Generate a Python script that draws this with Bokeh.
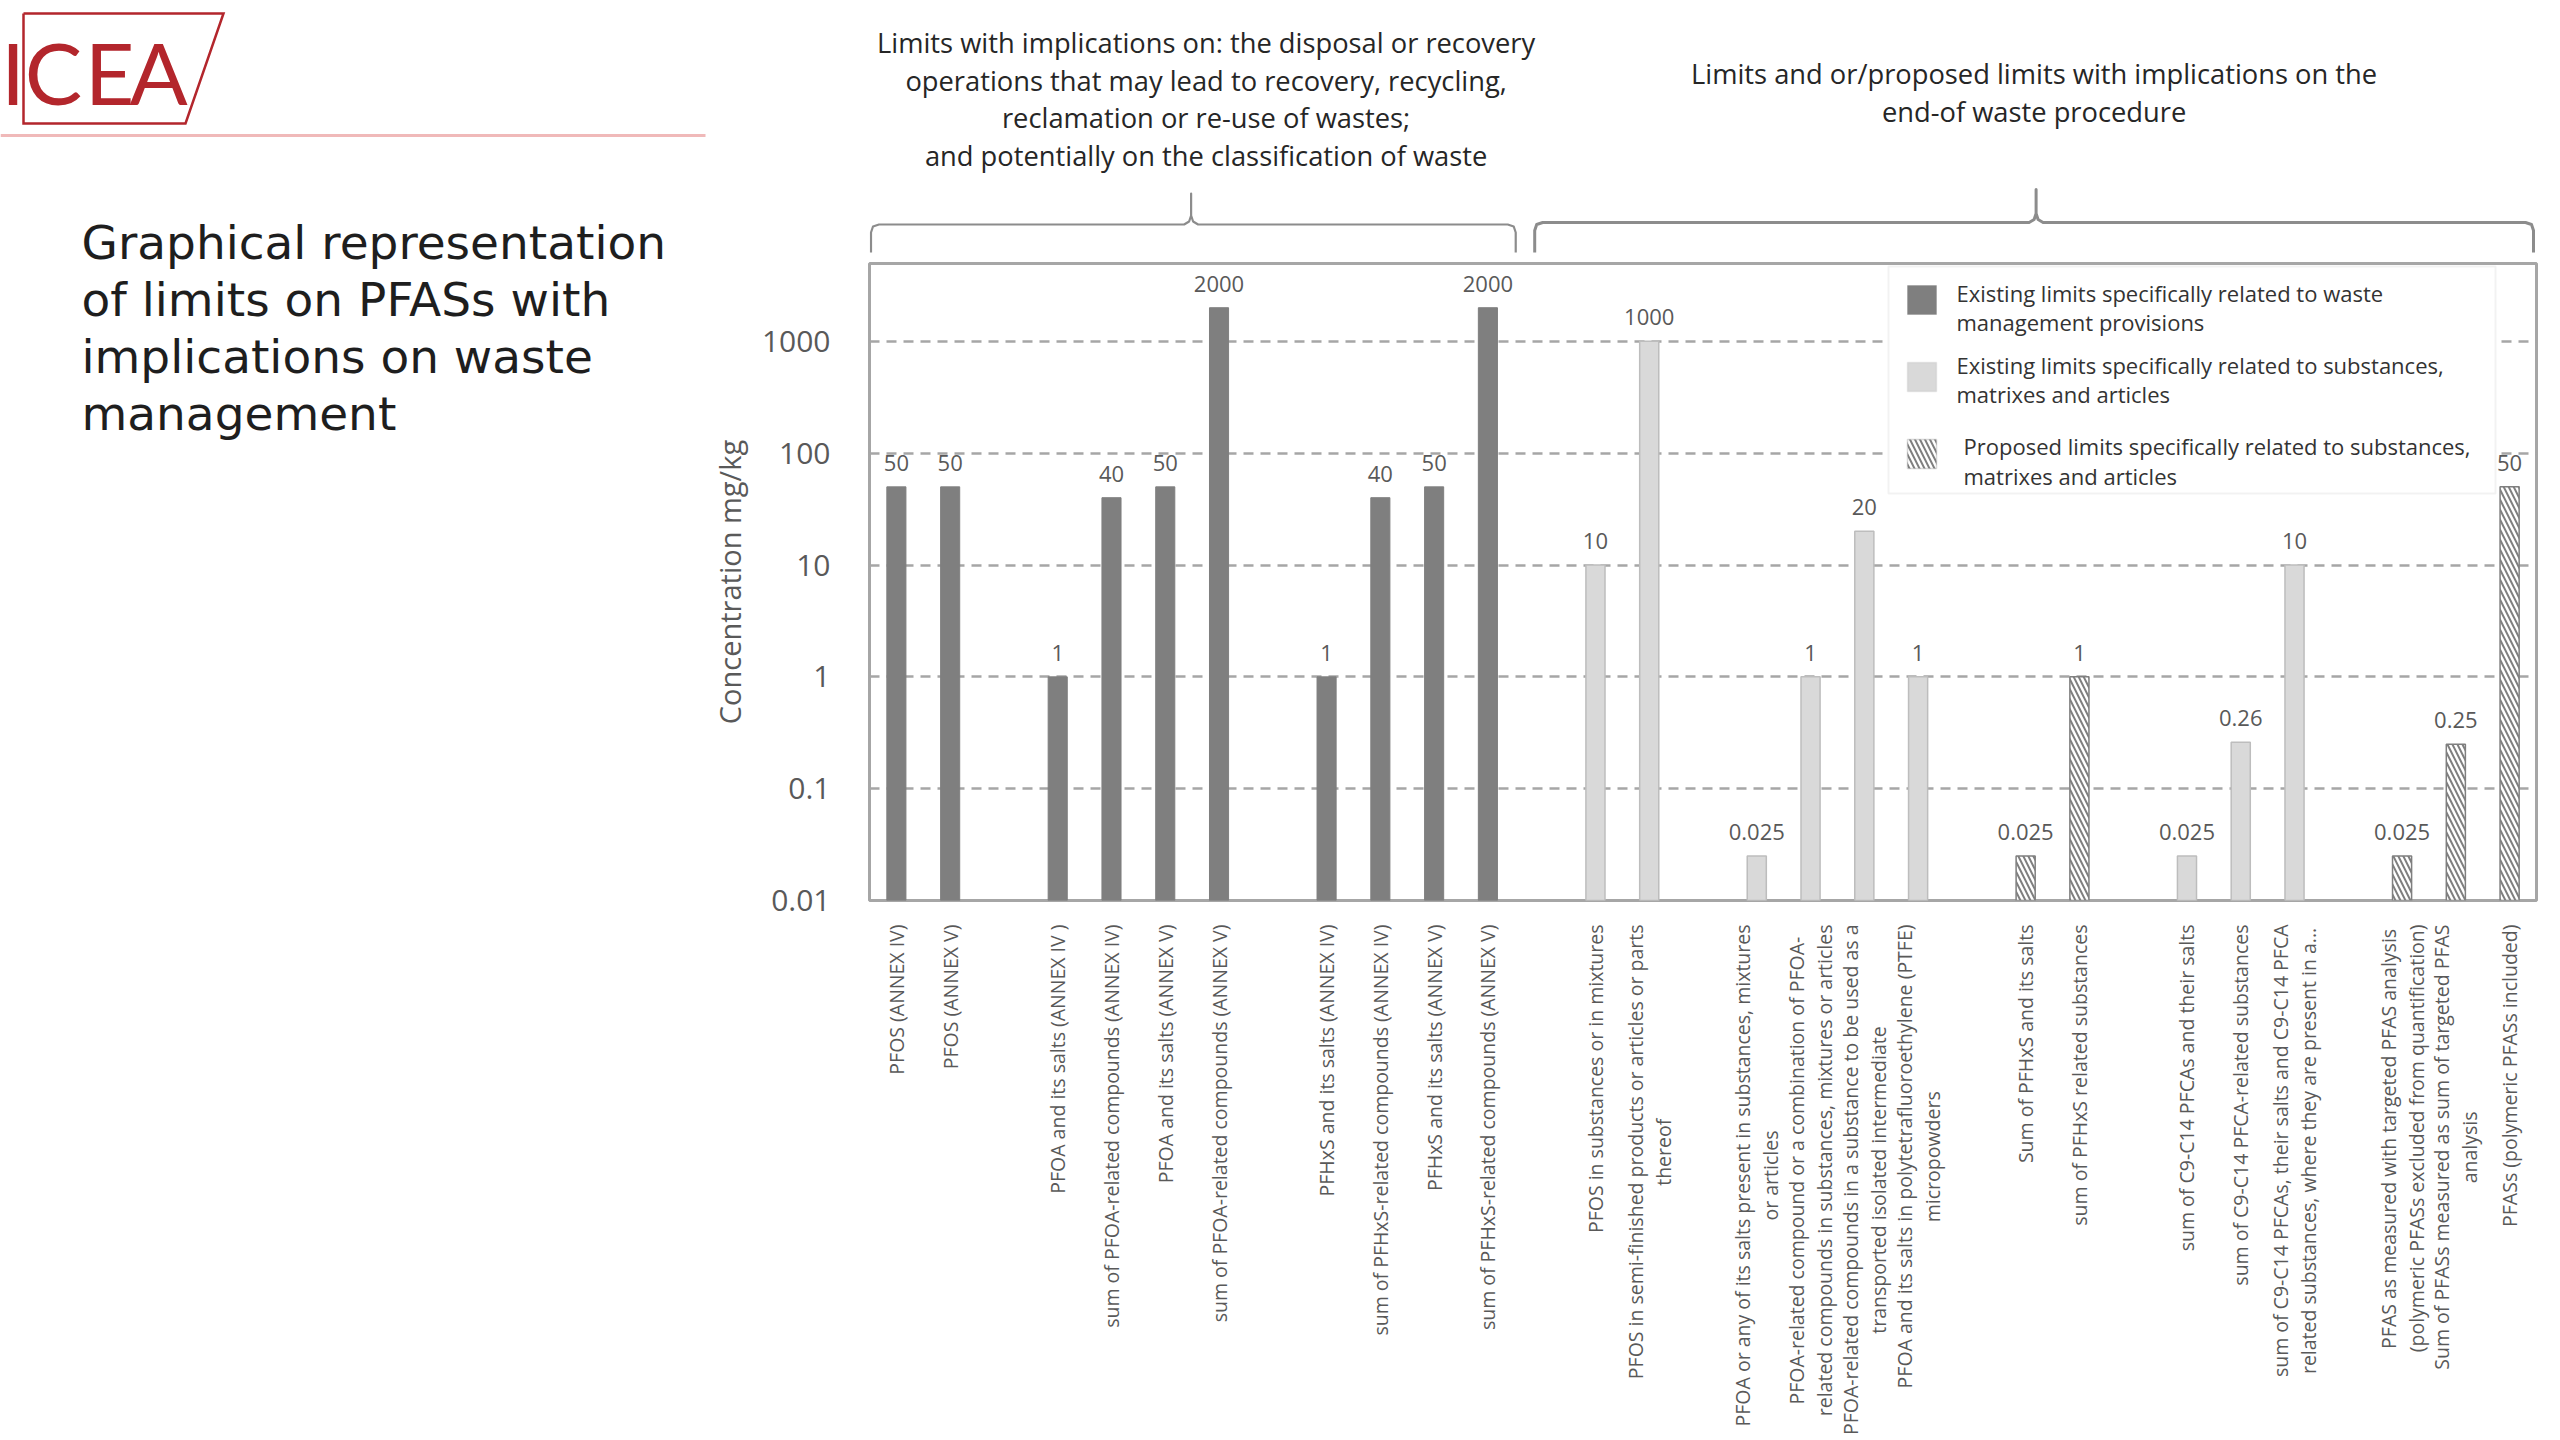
import math
from bokeh.plotting import figure
from bokeh.layouts import row, column
from bokeh.models import (Range1d, FixedTicker, NumeralTickFormatter, Label,
                          BoxAnnotation, ColumnDataSource)
from bokeh.core.properties import value
from bokeh.embed import file_html
from bokeh.resources import INLINE

# ---------------- data ----------------
categories = [
    "PFOS (ANNEX IV)", "PFOS (ANNEX V)", "",
    "PFOA and its salts (ANNEX IV )", "sum of PFOA-related compounds (ANNEX IV)",
    "PFOA and its salts (ANNEX V)", "sum of PFOA-related compounds (ANNEX V)", "",
    "PFHxS and its salts (ANNEX IV)", "sum of PFHxS-related compounds (ANNEX IV)",
    "PFHxS and its salts (ANNEX V)", "sum of PFHxS-related compounds (ANNEX V)", "",
    "PFOS in substances or in mixtures",
    "PFOS in semi-finished products or articles or parts\nthereof", "",
    "PFOA or any of its salts present in substances, mixtures\nor articles",
    "PFOA-related compound or a combination of PFOA-\nrelated compounds in substances, mixtures or articles",
    "PFOA-related compounds in a substance to be used as a\ntransported isolated intermediate",
    "PFOA and its salts in polytetrafluoroethylene (PTFE)\nmicropowders", "",
    "Sum of PFHxS and its salts", "sum of PFHxS related substances", "",
    "sum of C9-C14 PFCAs and their salts", "sum of C9-C14 PFCA-related substances",
    "sum of C9-C14 PFCAs, their salts and C9-C14 PFCA\nrelated substances, where they are present in a...", "",
    "PFAS as measured with targeted PFAS analysis\n(polymeric PFASs excluded from quantification)",
    "Sum of PFASs measured as sum of targeted PFAS\nanalysis",
    "PFASs (polymeric PFASs included)",
]
values = [50, 50, None, 1, 40, 50, 2000, None, 1, 40, 50, 2000, None,
          10, 1000, None, 0.025, 1, 20, 1, None, 0.025, 1, None,
          0.025, 0.26, 10, None, 0.025, 0.25, 50]
series = ["waste", "waste", None, "waste", "waste", "waste", "waste", None,
          "waste", "waste", "waste", "waste", None,
          "subst", "subst", None, "subst", "subst", "subst", "subst", None,
          "prop", "prop", None, "subst", "subst", "subst", None,
          "prop", "prop", "prop"]
series_names = {
    "waste": "Existing limits specifically related to waste\nmanagement provisions",
    "subst": "Existing limits specifically related to substances,\nmatrixes and articles",
    "prop": "Proposed limits specifically related to substances,\nmatrixes and articles",
}
group_headers = [
    ["Limits with implications on: the disposal or recovery",
     "operations that may lead to recovery, recycling,",
     "reclamation or re-use of wastes;",
     "and potentially on the classification of waste"],
    ["Limits and or/proposed limits with implications on the",
     "end-of waste procedure"],
]
title_lines = ["Graphical representation", "of limits on PFASs with",
               "implications on waste", "management"]
y_ticks = [0.01, 0.1, 1, 10, 100, 1000]
y_label = "Concentration mg/kg"
logo_letters = ["I", "C", "E", "A"]

# ---------------- layout (page pixels) ----------------
TOT_W, TOT_H = 2556, 1438
LW = 706                      # left panel width (logo + slide title)
TH = 258                      # top band height (group headers + braces)
FL, FT, FR, FB = 867, 263, 2536, 900   # plot frame in page coords
CB = 22                       # chart bottom border
CH = FB + CB - TH             # chart figure height
BH = TOT_H - TH - CH          # bottom band (category labels)
RW = TOT_W - LW
RED = "#b3262c"
DARK, LIGHT, GRID = "#7f7f7f", "#d9d9d9", "#a6a6a6"
TXT = "#595959"


def sx(X):
    return X - FL


def sy(Y):
    return FB - Y


def blank(w, h, xr, yr, **kw):
    f = figure(width=w, height=h, output_backend="svg", toolbar_location=None,
               x_range=xr, y_range=yr, x_axis_location=None, y_axis_location=None,
               min_border=0, **kw)
    f.grid.visible = False
    f.outline_line_color = None
    f.background_fill_color = "white"
    f.border_fill_color = "white"
    return f


# ---------------- left panel: logo + title ----------------
L = blank(LW, TOT_H, Range1d(0, LW), Range1d(TOT_H, 0))
L.line(x=[23, 223, 185, 23, 23], y=[13, 13, 123, 123, 13], line_color=RED,
       line_width=2.5, line_join="miter")
L.text(x=[12.5, 53, 109, 158], y=[71] * 4, text=logo_letters, text_align="center",
       text_baseline="middle", text_font=value("Lato"), text_font_size="86px",
       text_color=RED)
L.line(x=[0, 705], y=[135, 135], line_color="#f0b9b9", line_width=3)
L.text(x=[81] * len(title_lines), y=[242, 299, 356, 413], text=title_lines,
       text_align="left", text_baseline="middle", text_font=value("DejaVu Sans"),
       text_font_size="47px", text_color="#1e1e1e")

# ---------------- top band: group headers + braces ----------------
T = blank(RW, TH, Range1d(FL, FR), Range1d(TH, 0))
T.min_border_left = FL - LW
T.min_border_right = TOT_W - FR
for lines, cx, ys in [(group_headers[0], 1204, [42, 80, 117, 155]),
                      (group_headers[1], 2033, [73, 111])]:
    T.text(x=[cx] * len(lines), y=ys, text=lines, text_align="center",
           text_baseline="middle", text_font=value("Open Sans"), text_font_size="27.3px",
           text_color="#262626")


def brace_pts(x0, x1, xc, yh, ypk, ybot, r=8):
    pts = [(x0, ybot), (x0, yh + r), (x0 + 2, yh + 2), (x0 + r, yh),
           (xc - 7, yh), (xc - 2, yh - 3), (xc, yh - 9), (xc, ypk),
           (xc, yh - 9), (xc + 2, yh - 3), (xc + 7, yh),
           (x1 - r, yh), (x1 - 2, yh + 2), (x1, yh + r), (x1, ybot)]
    return [a for a, _ in pts], [b for _, b in pts]


for (bx, by), lw in [(brace_pts(868.5, 1514, 1189, 224, 193, 252), 2.2),
                     (brace_pts(1533, 2533, 2035, 222, 189, 252), 3)]:
    T.line(x=bx, y=by, line_color="#8c8c8c", line_width=lw, line_join="round")

# ---------------- chart ----------------
C = figure(width=RW, height=CH, output_backend="svg", toolbar_location=None,
           x_range=Range1d(-0.5, len(categories) - 0.5),
           y_range=Range1d(0.01, 4970), y_axis_type="log",
           min_border_left=FL - LW, min_border_top=FT - TH,
           min_border_right=TOT_W - FR, min_border_bottom=CB)
C.background_fill_color = "white"
C.border_fill_color = "white"
C.outline_line_color = GRID
C.outline_line_width = 3
C.xaxis.visible = False
C.xgrid.visible = False

yax = C.yaxis[0]
yax.ticker = FixedTicker(ticks=y_ticks)
yax.formatter = NumeralTickFormatter(format="0.[00]")
yax.axis_line_color = None
yax.major_tick_line_color = None
yax.minor_tick_line_color = None
yax.major_label_standoff = 33
yax.major_label_text_font = "Open Sans"
yax.major_label_text_font_size = "30px"
yax.major_label_text_color = TXT
yax.axis_label = y_label
yax.axis_label_text_font = "Open Sans"
yax.axis_label_text_font_size = "29px"
yax.axis_label_text_font_style = "normal"
yax.axis_label_text_color = TXT
yax.axis_label_standoff = 10
C.ygrid.grid_line_color = GRID
C.ygrid.grid_line_dash = "10 7"
C.ygrid.grid_line_width = 2.5


def make_src(kind):
    idx = [i for i, s in enumerate(series) if s == kind]
    return ColumnDataSource(dict(x=idx, top=[values[i] for i in idx],
                                 label=[f"{values[i]:g}" for i in idx]))


BW = 0.355
HATCH = dict(hatch_pattern="\\", hatch_color=DARK, hatch_scale=10, hatch_weight=2)
styles = {
    "waste": dict(fill_color=DARK, line_color=DARK, line_width=1),
    "subst": dict(fill_color=LIGHT, line_color="#bdbdbd", line_width=1.5),
    "prop": dict(fill_color="white", line_color=DARK, line_width=1.5, **HATCH),
}
for kind in ["waste", "subst", "prop"]:
    src = make_src(kind)
    C.vbar(x="x", top="top", bottom=0.01, width=BW, source=src, **styles[kind])
    C.text(x="x", y="top", text="label", source=src, text_align="center",
           text_baseline="middle", y_offset=-24, text_font=value("Open Sans"),
           text_font_size="22px", text_color=TXT)

# legend (drawn inside the frame)
C.add_layout(BoxAnnotation(left=sx(1886), right=sx(2493), top=sy(266), bottom=sy(493),
                           left_units="screen", right_units="screen", top_units="screen",
                           bottom_units="screen", fill_color="white", fill_alpha=1,
                           line_color="#d4d4d4", line_width=2))
leg_rows = [("waste", 285, 1954, [292, 321]), ("subst", 362, 1954, [364, 393]),
            ("prop", 439, 1961, [445, 475])]
for kind, top, tx, lys in leg_rows:
    st = styles[kind]
    kw = dict(fill_color=st["fill_color"], fill_alpha=1, line_color=st["line_color"],
              line_width=st["line_width"])
    if kind == "prop":
        kw.update(HATCH)
    C.add_layout(BoxAnnotation(left=sx(1905), right=sx(1934), top=sy(top), bottom=sy(top + 29),
                               left_units="screen", right_units="screen", top_units="screen",
                               bottom_units="screen", **kw))
    for line, ly in zip(series_names[kind].split("\n"), lys):
        C.add_layout(Label(x=sx(tx), y=sy(ly), x_units="screen", y_units="screen", text=line,
                           text_align="left", text_baseline="middle", text_font="Open Sans",
                           text_font_size="22px", text_color="#333333"))

# ---------------- bottom band: rotated category labels ----------------
CAT_FS = 19.5
LS = 28          # line spacing of wrapped category labels
# approximate Open Sans advance widths (em) used to centre wrapped lines
_W = dict(zip(" abcdefghijklmnopqrstuvwxyz",
              [.26, .556, .613, .48, .613, .561, .336, .546, .614, .258, .258, .529, .258,
               .932, .614, .604, .613, .613, .408, .477, .352, .614, .5, .778, .522, .5, .468]))
_W.update(zip("ABCDEFGHIJKLMNOPQRSTUVWXYZ",
              [.633, .647, .631, .729, .556, .516, .728, .738, .279, .267, .614, .519, .907,
               .754, .779, .602, .779, .618, .549, .553, .728, .595, .926, .577, .56, .571]))
_W.update({c: .572 for c in "0123456789"})
_W.update({"(": .296, ")": .296, "-": .322, ",": .245, ".": .266, "/": .367, ":": .266})


def est_w(s):
    return sum(_W.get(c, .55) for c in s) * CAT_FS


B = blank(RW, BH, C.x_range, Range1d(BH, 0))
B.min_border_left = FL - LW
B.min_border_right = TOT_W - FR
LAB_TOP = 2
right_rows = dict(x=[], xo=[], y=[], t=[])
cent_rows = dict(x=[], xo=[], y=[], t=[])
for i, cat in enumerate(categories):
    if not cat:
        continue
    lines = cat.split("\n")
    n = len(lines)
    longest = max(range(n), key=lambda k: est_w(lines[k]))
    for k, line in enumerate(lines):
        xo = (k - (n - 1) / 2) * LS
        if k == longest:
            d, yy = right_rows, LAB_TOP
        else:
            d, yy = cent_rows, LAB_TOP + est_w(lines[longest]) / 2
        d["x"].append(i); d["xo"].append(xo); d["y"].append(yy); d["t"].append(line)

for d, align in [(right_rows, "right"), (cent_rows, "center")]:
    B.text(x="x", y="y", text="t", x_offset="xo", source=ColumnDataSource(d),
           angle=math.pi / 2, text_align=align, text_baseline="middle",
           text_font=value("Open Sans"), text_font_size=f"{CAT_FS}px", text_color=TXT)

layout = row(L, column(T, C, B))
open("out.html", "w").write(file_html(layout, INLINE))
